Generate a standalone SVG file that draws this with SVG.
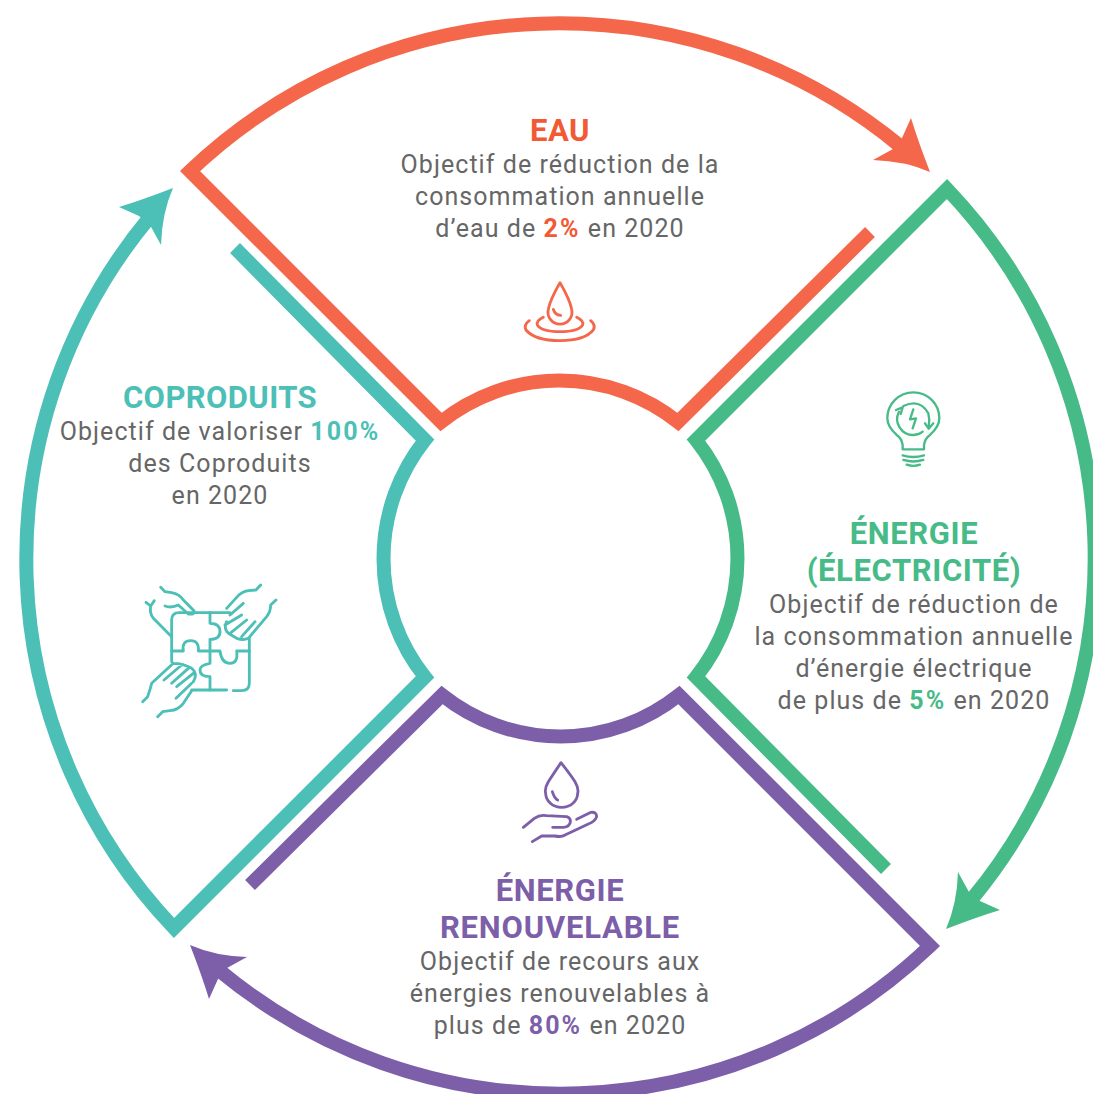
<svg xmlns="http://www.w3.org/2000/svg" width="1093" height="1094" viewBox="0 0 1093 1094">
<style>
text{font-family:Roboto,"Liberation Sans",sans-serif;text-anchor:middle}
.b{font-size:25px;font-weight:400;letter-spacing:1.05px;fill:#666}
.t{font-size:31px;font-weight:700;letter-spacing:.6px}
.s{font-weight:700;letter-spacing:2.1px}
.l{fill:none;stroke-width:14;stroke-linejoin:miter;stroke-miterlimit:10}
.i{fill:none;stroke-width:8.5;stroke-linecap:round;stroke-linejoin:round}
.o{color:#f4674a}.g{color:#47bb87}.p{color:#7d5fa9}.c{color:#4cbfb6}
.tt{fill:currentColor}
</style>
<defs>
<path id="ring" d="M900,145 A535,535 0 0 0 190,170 L441,421 A190,190 0 0 1 678,421 L870,231" stroke="currentColor" class="l"/>
<path id="head" fill="currentColor" d="M930,171 Q918,140 911,117 L902,137 L893,148 L873,159 Q905,160 930,171Z"/>
</defs>
<g id="connectors">
<g class="o" transform="translate(0 1)"><use href="#ring"/><use href="#head"/></g>
<g class="g" transform="translate(-1 1) rotate(90 560 558)"><use href="#ring"/><use href="#head"/></g>
<g class="p" transform="rotate(180 560 558)"><use href="#ring"/><use href="#head"/></g>
<g class="c" transform="translate(2 0) rotate(270 560 558)"><use href="#ring"/></g>
<g class="c" transform="rotate(270 560 558)"><use href="#head"/></g>
</g>
<g id="eau" class="o">
<text class="t tt" x="560" y="141" style="fill:#f15a35">EAU</text>
<text class="b" x="560" y="173">Objectif de réduction de la</text>
<text class="b" x="560" y="205">consommation annuelle</text>
<text class="b" x="560" y="237">d’eau de <tspan class="s" style="fill:#f15a35">2%</tspan> en 2020</text>
<g transform="translate(500 270) scale(.3333)" class="i" stroke="#f4674a">
<path d="M180,38Q210,90 215,118A36,36 0 1 1 145,118Q150,90 180,38Z"/>
<path d="M160,118Q165,135 182,136"/>
<path d="M130,142Q108,152 112,165Q125,185 180,185Q235,185 248,165Q252,152 230,142"/>
<path d="M88,152Q70,165 78,180Q105,212 180,212Q255,212 280,180Q288,165 272,152"/>
</g>
</g>
<g id="energie" class="g">
<text class="t tt" x="914" y="544">ÉNERGIE</text>
<text class="t tt" x="914" y="581">(ÉLECTRICITÉ)</text>
<text class="b" x="914" y="613">Objectif de réduction de</text>
<text class="b" x="914" y="645">la consommation annuelle</text>
<text class="b" x="914" y="677">d’énergie électrique</text>
<text class="b" x="914" y="709">de plus de <tspan class="s" style="fill:#47bb87">5%</tspan> en 2020</text>
<g transform="translate(870 380) scale(.3333)" class="i" stroke="#47bb87" style="stroke-width:7">
<path d="M98,208L98,195Q95,175 80,165Q52,140 52,115A78,78 0 1 1 208,115Q208,140 180,165Q165,175 162,195L162,208Z"/>
<path d="M98,226Q130,236 162,226M100,240Q130,249 160,240M110,254Q130,261 150,254"/>
<path d="M87,95A48,48 0 0 0 130,165Q150,163 158,155"/>
<path d="M100,78Q150,55 175,100Q180,120 176,140"/>
<path d="M78,90L98,82L92,102M165,130L176,146L190,130"/>
<path d="M130,88L120,118L138,115L128,145"/>
</g>
</g>
<g id="renouvelable" class="p">
<text class="t tt" x="560" y="901">ÉNERGIE</text>
<text class="t tt" x="560" y="938" style="letter-spacing:.8px">RENOUVELABLE</text>
<text class="b" x="560" y="970">Objectif de recours aux</text>
<text class="b" x="560" y="1002">énergies renouvelables à</text>
<text class="b" x="560" y="1034">plus de <tspan class="s" style="fill:#7d5fa9">80%</tspan> en 2020</text>
<g transform="translate(505 750) scale(.3333)" class="i" stroke="#7d5fa9">
<path d="M168,38Q195,72 210,95Q222,115 218,130A48,42 0 0 1 122,130Q118,115 130,95Q145,72 168,38Z"/>
<path d="M142,125Q148,145 158,150"/>
<path d="M55,232L88,205Q105,193 125,197L185,200Q200,205 195,220Q190,232 175,232L143,232"/>
<path d="M215,208L258,187Q275,185 275,200Q270,215 250,222L180,255Q170,262 150,258L110,258L82,275"/>
</g>
</g>
<g id="coproduits" class="c">
<text class="t tt" x="220" y="408" style="letter-spacing:.4px">COPRODUITS</text>
<text class="b" x="220" y="440">Objectif de valoriser <tspan class="s" style="fill:#4cbfb6">100%</tspan></text>
<text class="b" x="220" y="472">des Coproduits</text>
<text class="b" x="220" y="504">en 2020</text>
<g transform="translate(120 570) scale(.3333)" class="i" stroke="#4cbfb6">
<path d="M155,200L155,150Q155,128 178,128L330,128M388,205L388,340Q388,362 365,362L340,362M320,360L215,360M155,200L155,275"/>
<path d="M270,128L270,160Q300,160 300,185Q300,208 270,208L270,280Q240,285 240,300Q240,320 270,320L270,360"/>
<path d="M155,243L190,243Q185,212 212,212Q238,212 235,243L300,243Q305,280 330,280Q355,280 350,243L388,243"/>
<path d="M122,52L135,65L155,68Q178,72 190,90L222,122Q225,135 205,132L175,105Q155,115 135,108"/>
<path d="M78,97L92,108L103,92M92,108Q88,130 100,145L155,200"/>
<path d="M422,45L408,60L385,62Q365,65 350,82L320,115M370,100L330,135M365,135L315,165M380,150L330,190M405,155L365,200M320,155Q310,175 325,190L350,205Q370,212 385,205M468,90L452,105Q452,125 440,140L385,205"/>
<path d="M68,395L83,380Q90,360 95,340L160,280M132,330L185,285M155,340L205,295M170,350L220,310M168,385L215,340M160,280Q190,280 215,295Q235,310 220,335M113,440L128,425L150,422Q175,420 190,400L215,362"/>
</g>
</g>
</svg>
